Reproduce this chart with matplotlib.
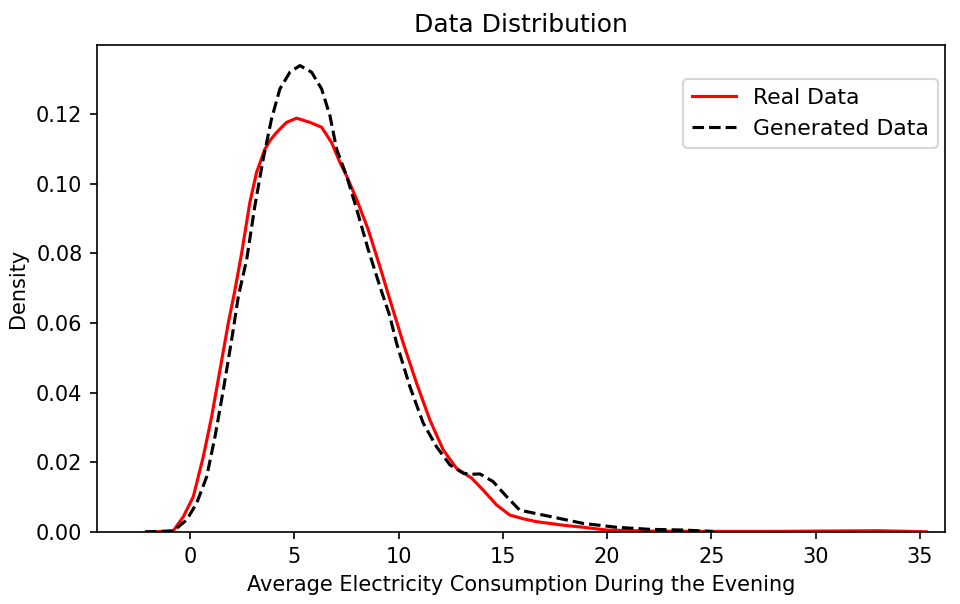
import matplotlib
matplotlib.use("Agg")
import matplotlib.pyplot as plt

# values (kde curves)
real_x = [-1.6, -0.8, -0.32, 0.16, 0.64, 1.04, 1.44, 1.84, 2.16, 2.48, 2.87,
          3.19, 3.59, 3.85, 4.15, 4.63, 5.11, 5.75, 6.31, 6.79, 7.19, 7.51,
          7.99, 8.54, 9.10, 9.58, 10.22, 10.86, 11.50, 12.14, 12.78, 13.50,
          14.05, 14.70, 15.33, 16.0, 16.61, 17.25, 18.0, 18.85, 19.97, 22.0,
          25.0, 28.0, 30.0, 33.0, 35.3]
real_y = [0.0001, 0.0004, 0.0044, 0.0102, 0.0217, 0.0332, 0.0466, 0.0601,
          0.0696, 0.0802, 0.0946, 0.1032, 0.1099, 0.1125, 0.1147, 0.1176,
          0.1188, 0.1176, 0.1162, 0.1118, 0.1061, 0.1022, 0.0955, 0.0869,
          0.0763, 0.0668, 0.0543, 0.0428, 0.0322, 0.0236, 0.0183, 0.0155,
          0.0121, 0.0078, 0.0049, 0.0038, 0.0030, 0.0025, 0.0019, 0.0014,
          0.0006, 0.0003, 0.0002, 0.0002, 0.0003, 0.0004, 0.0001]

gen_x = [-2.16, -1.4, -0.8, -0.16, 0.32, 0.80, 1.20, 1.60, 2.00, 2.32, 2.72,
         3.11, 3.51, 3.91, 4.31, 4.79, 5.27, 5.83, 6.31, 6.71, 7.03, 7.51,
         7.99, 8.54, 9.10, 9.58, 9.90, 10.54, 11.18, 11.82, 12.46, 13.10,
         13.50, 13.90, 14.53, 15.18, 15.81, 16.45, 17.73, 18.85, 20.44,
         22.04, 23.64, 25.07]
gen_y = [0.0001, 0.0002, 0.0003, 0.0035, 0.0083, 0.0159, 0.0274, 0.0409,
         0.0553, 0.0677, 0.0783, 0.0936, 0.1071, 0.1186, 0.1272, 0.1320,
         0.1339, 0.1320, 0.1272, 0.1195, 0.1099, 0.1022, 0.0927, 0.0812,
         0.0706, 0.0620, 0.0543, 0.0418, 0.0313, 0.0245, 0.0193, 0.0169,
         0.0166, 0.0167, 0.0145, 0.0102, 0.0063, 0.0055, 0.0039, 0.0025,
         0.0014, 0.0008, 0.0006, 0.0002]

fig = plt.figure(figsize=(6.4, 604 / 150), dpi=150)
ax = fig.add_axes([0.101, 0.119, 0.883, 0.8065])

ax.plot(real_x, real_y, color="red", label="Real Data")
ax.plot(gen_x, gen_y, color="black", linestyle="--", label="Generated Data")

ax.set_xlim(-4.46, 36.18)
ax.set_ylim(0, 0.1398)
ax.set_title("Data Distribution")
ax.set_xlabel("Average Electricity Consumption During the Evening")
ax.set_ylabel("Density")
ax.legend(loc="upper right", bbox_to_anchor=(0.992, 0.93), borderaxespad=0,
          fontsize=10.5)

fig.savefig("out.png", dpi=150)
